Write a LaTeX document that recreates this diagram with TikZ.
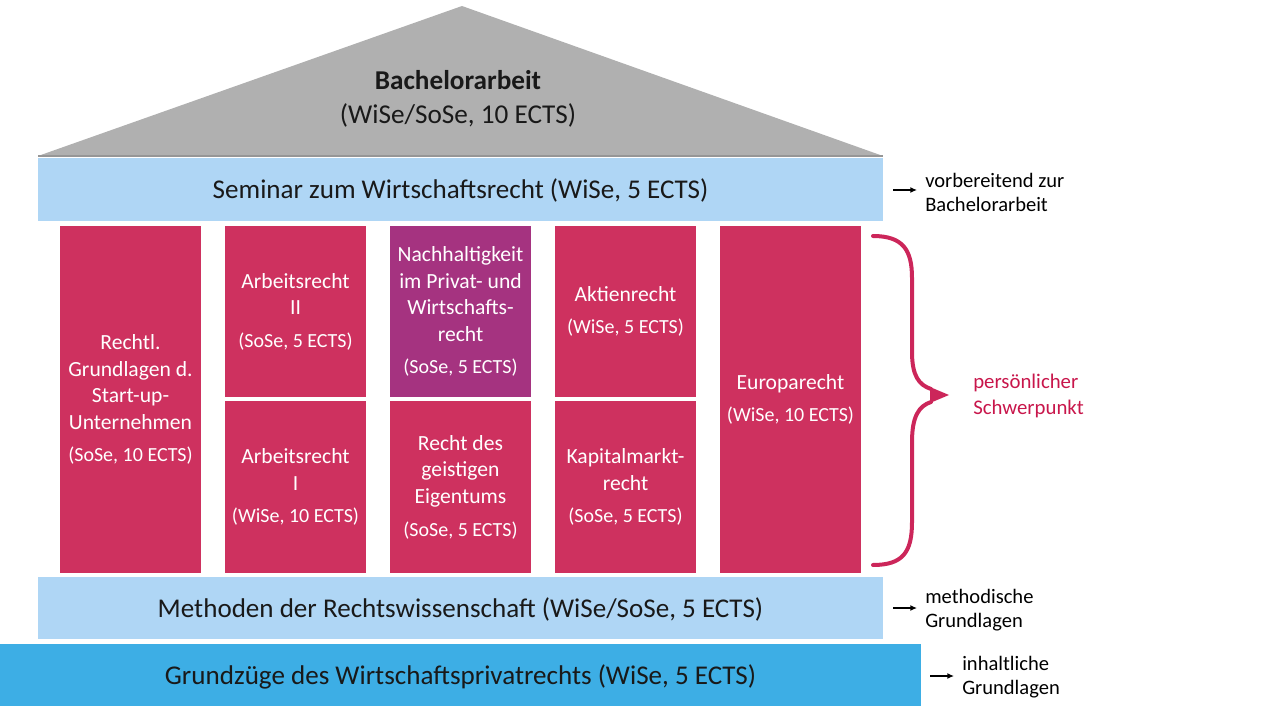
\documentclass[tikz,border=0pt]{standalone}
\usepackage{fontspec}
\setmainfont{Carlito}
\usetikzlibrary{arrows.meta}
\definecolor{roofgray}{RGB}{176,176,176}
\definecolor{roofedge}{RGB}{150,150,150}
\definecolor{lightblue}{RGB}{175,214,245}
\definecolor{midblue}{RGB}{61,174,229}
\definecolor{pinkc}{RGB}{206,49,95}
\definecolor{purplec}{RGB}{165,51,128}
\definecolor{bracered}{RGB}{204,38,90}
\definecolor{notered}{RGB}{200,22,75}
\tikzset{
  bar/.style={fill=lightblue, inner sep=0pt, minimum height=46.5pt, text=black!90,
    text height=15.2pt, text depth=1.2pt,
    font=\fontsize{20.3}{24}\selectfont},
  colbox/.style={fill=pinkc, inner sep=0pt, minimum width=105.75pt, text=white,
    align=center, font=\fontsize{16.2}{20}\selectfont},
  note/.style={anchor=west, align=left, inner sep=0pt, text=black,
    font=\fontsize{15.4}{18}\selectfont},
  notearrow/.style={-{Latex[length=5pt,width=4.5pt]}, line width=1.4pt, black},
}
\newcommand{\ects}[1]{{\fontsize{15}{20}\selectfont #1}}
\begin{document}
\begin{tikzpicture}[x=0.75pt,y=-0.75pt]
\useasboundingbox (0,0) rectangle (1273,716);
% roof
\fill[roofgray] (38,156) coordinate (rl) -- (462,6) coordinate (rt) -- (883,156) coordinate (rr) -- cycle;
\draw[roofedge, line width=1.8pt] (rl) -- (rr);
\node[align=center, inner sep=0pt, text=black!90, font=\fontsize{20.4}{25.5}\selectfont] (bach) at (458,99)
  {\textbf{Bachelorarbeit}\\(WiSe/SoSe, 10 ECTS)};
% seminar
\node[bar, minimum width=633.75pt, minimum height=47.25pt] (sem) at (460.5,189.5) {Seminar zum Wirtschaftsrecht (WiSe, 5 ECTS)};
% columns
\node[colbox, minimum height=260.25pt] (c1) at (130.5,399.5)
  {Rechtl.\\Grundlagen d.\\Start-up-\\Unternehmen\\[4.4pt]\ects{(SoSe, 10 ECTS)}};
\node[colbox, minimum height=128.25pt] (c2a) at (295.5,311.5)
  {Arbeitsrecht\\II\\[4.4pt]\ects{(SoSe, 5 ECTS)}};
\node[colbox, minimum height=129pt] (c2b) at (295.5,487)
  {Arbeitsrecht\\I\\[4.4pt]\ects{(WiSe, 10 ECTS)}};
\node[colbox, fill=purplec, minimum height=128.25pt] (c3a) at (460.5,311.5)
  {Nachhaltigkeit\\im Privat- und\\Wirtschafts-\\recht\\[4.4pt]\ects{(SoSe, 5 ECTS)}};
\node[colbox, minimum height=129pt] (c3b) at (460.5,487)
  {Recht des\\geistigen\\Eigentums\\[4.4pt]\ects{(SoSe, 5 ECTS)}};
\node[colbox, minimum height=128.25pt] (c4a) at (625.5,311.5)
  {Aktienrecht\\[4.4pt]\ects{(WiSe, 5 ECTS)}};
\node[colbox, minimum height=129pt] (c4b) at (625.5,487)
  {Kapitalmarkt-\\recht\\[4.4pt]\ects{(SoSe, 5 ECTS)}};
\node[colbox, minimum height=260.25pt] (c5) at (790.5,399.5)
  {Europarecht\\[4.4pt]\ects{(WiSe, 10 ECTS)}};
% base bars
\node[bar, minimum width=633.75pt] (meth) at (460.5,608) {Methoden der Rechtswissenschaft (WiSe/SoSe, 5 ECTS)};
\node[bar, fill=midblue, minimum width=690.75pt] (grund) at (460.5,675) {Grundzüge des Wirtschaftsprivatrechts (WiSe, 5 ECTS)};
% brace
\draw[bracered, line width=3pt, line cap=round]
  (873,236) .. controls (903,236) and (912,250) .. (912,278) -- (912,352)
  .. controls (912,376) and (919,385) .. (931,389);
\draw[bracered, line width=3pt, line cap=round]
  (931,402) .. controls (919,406) and (912,416) .. (912,442) -- (912,522)
  .. controls (912,552) and (903,565) .. (873,565);
\fill[bracered] (930,387) -- (949,395) coordinate (tip) -- (930,403) -- cycle;
\node[note, text=notered, font=\fontsize{15.6}{19}\selectfont] (schwer) at (973,396) {persönlicher\\Schwerpunkt};
% notes
\node[note] (n1) at (925,192) {vorbereitend zur\\Bachelorarbeit};
\coordinate (a1s) at (893,190); \coordinate (a1e) at (917,190);
\draw[notearrow] (a1s) -- (a1e);
\node[note] (n2) at (925,610) {methodische\\Grundlagen};
\coordinate (a2s) at (893,608); \coordinate (a2e) at (917,608);
\draw[notearrow] (a2s) -- (a2e);
\node[note] (n3) at (962,677) {inhaltliche\\Grundlagen};
\coordinate (a3s) at (930,676); \coordinate (a3e) at (954,676);
\draw[notearrow] (a3s) -- (a3e);
\end{tikzpicture}
\end{document}
